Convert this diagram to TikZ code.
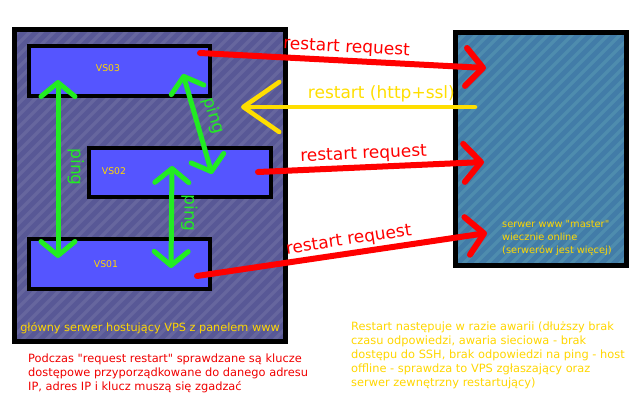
\documentclass[tikz,border=0pt]{standalone}
\usepackage{fontspec}
\setmainfont{DejaVu Sans}[Ligatures=TeXOff]
\usetikzlibrary{arrows.meta,positioning}

\definecolor{hostfill}{RGB}{88,88,150}
\definecolor{hoststripe}{RGB}{102,102,158}
\definecolor{wwwfill}{RGB}{66,124,168}
\definecolor{wwwstripe}{RGB}{78,140,174}
\definecolor{vsblue}{RGB}{85,85,255}
\definecolor{txtyellow}{RGB}{255,214,0}
\definecolor{httpyellow}{RGB}{255,222,0}
\definecolor{reqred}{RGB}{255,0,0}
\definecolor{notered}{RGB}{240,0,0}
\definecolor{pinggreen}{RGB}{34,236,34}

\tikzset{
	stripes/.style={path picture={
		\foreach \s in {-330,-318,...,330}
			\draw[#1, line width=3.5pt] ([xshift=\s pt]path picture bounding box.south west) -- ++(400,-400);
	}}
}

\begin{document}
\begin{tikzpicture}[
	x=1pt, y=-1pt,
	serverbox/.style={draw, line width=5pt, inner sep=0pt},
	vsbox/.style={draw, line width=4pt, inner sep=0pt, fill=vsblue, minimum width=181pt, minimum height=50pt},
	vslabel/.style={text=txtyellow, inner sep=0pt, font=\fontsize{9.3}{11}\selectfont},
	request/.style={draw=reqred, line width=6pt, line cap=round, -{Straight Barb[round, length=17pt, width=38pt]}},
	reqlabel/.style={text=reqred, sloped, above, inner sep=2pt, font=\fontsize{17}{20}\selectfont},
	ping/.style={draw=pinggreen, line width=5pt, line cap=round, {Straight Barb[round, length=14pt, width=34pt]}-{Straight Barb[round, length=14pt, width=34pt]}},
	pinglabel/.style={text=pinggreen, sloped, allow upside down, above=7pt, inner sep=0pt, font=\fontsize{17}{20}\selectfont},
	note/.style={align=left, inner sep=0pt, font=\fontsize{11.4}{14}\selectfont}
]
\useasboundingbox (0,0) rectangle (640,400);

% serwery
\node[serverbox, fill=hostfill, stripes=hoststripe, minimum width=271pt, minimum height=312pt] (host) at (150,185.5) {};
\node[serverbox, fill=wwwfill, stripes=wwwstripe, minimum width=171pt, minimum height=233pt] (www) at (541,149) {};

\node[vsbox] (vs03) at (119.5,71) {};
\node[vsbox, minimum width=182pt, minimum height=49pt] (vs02) at (180,172.5) {};
\node[vsbox] (vs01) at (119.5,264) {};

\node[vslabel] (vs03txt) at (108,68) {VS03};
\node[vslabel] (vs02txt) at (114,171) {VS02};
\node[vslabel] (vs01txt) at (106,264) {VS01};

\node[text=txtyellow, inner sep=0pt, font=\fontsize{11.3}{14}\selectfont] (hosttxt) at (150,328) {główny serwer hostujący VPS z panelem www};
\node[text=txtyellow, align=left, inner sep=0pt, anchor=west, font=\fontsize{9.8}{13}\selectfont] (wwwtxt) at (502,238) {serwer www "master"\\wiecznie online\\(serwerów jest więcej)};

% koncowki strzalek
\coordinate (req1s) at (200,53);
\coordinate (req1e) at (486,68);
\coordinate (req2s) at (258,172);
\coordinate (req2e) at (484,162);
\coordinate (req3s) at (197,276);
\coordinate (req3e) at (487,233);
\coordinate (httpS) at (475,107);
\coordinate (httpE) at (241,107);
\coordinate (ping1a) at (58,80);
\coordinate (ping1b) at (58,258);
\coordinate (ping2a) at (183,74);
\coordinate (ping2b) at (212,174);
\coordinate (ping3a) at (172,166);
\coordinate (ping3b) at (171,268);

% ping
\draw[ping] (ping1a) -- node[pinglabel, pos=0.49] {ping} (ping1b);
\draw[ping] (ping2a) -- node[pinglabel, pos=0.47] {ping} (ping2b);
\draw[ping] (ping3a) -- node[pinglabel, pos=0.46] {ping} (ping3b);

% restart
\draw[request] (req1s) -- node[reqlabel, pos=0.51] {restart request} (req1e);
\draw[request] (req2s) -- node[reqlabel, pos=0.47] {restart request} (req2e);
\draw[request] (req3s) -- node[reqlabel, pos=0.53] {restart request} (req3e);
\draw[draw=httpyellow, line width=4.5pt, line cap=round, -{Straight Barb[round, length=36pt, width=50pt]}]
	(httpS) -- node[text=httpyellow, above, pos=0.40, inner sep=3pt, font=\fontsize{17}{20}\selectfont] {restart (http+ssl)} (httpE);

% opisy
\node[note, text=notered, anchor=west] (keynote) at (28,373) {Podczas "request restart" sprawdzane są klucze\\dostępowe przyporządkowane do danego adresu\\IP, adres IP i klucz muszą się zgadzać};
\node[note, text=txtyellow, anchor=west] (failnote) at (351,355) {Restart następuje w razie awarii (dłuższy brak\\czasu odpowiedzi, awaria sieciowa - brak\\dostępu do SSH, brak odpowiedzi na ping - host\\offline - sprawdza to VPS zgłaszający oraz\\serwer zewnętrzny restartujący)};
\end{tikzpicture}
\end{document}
